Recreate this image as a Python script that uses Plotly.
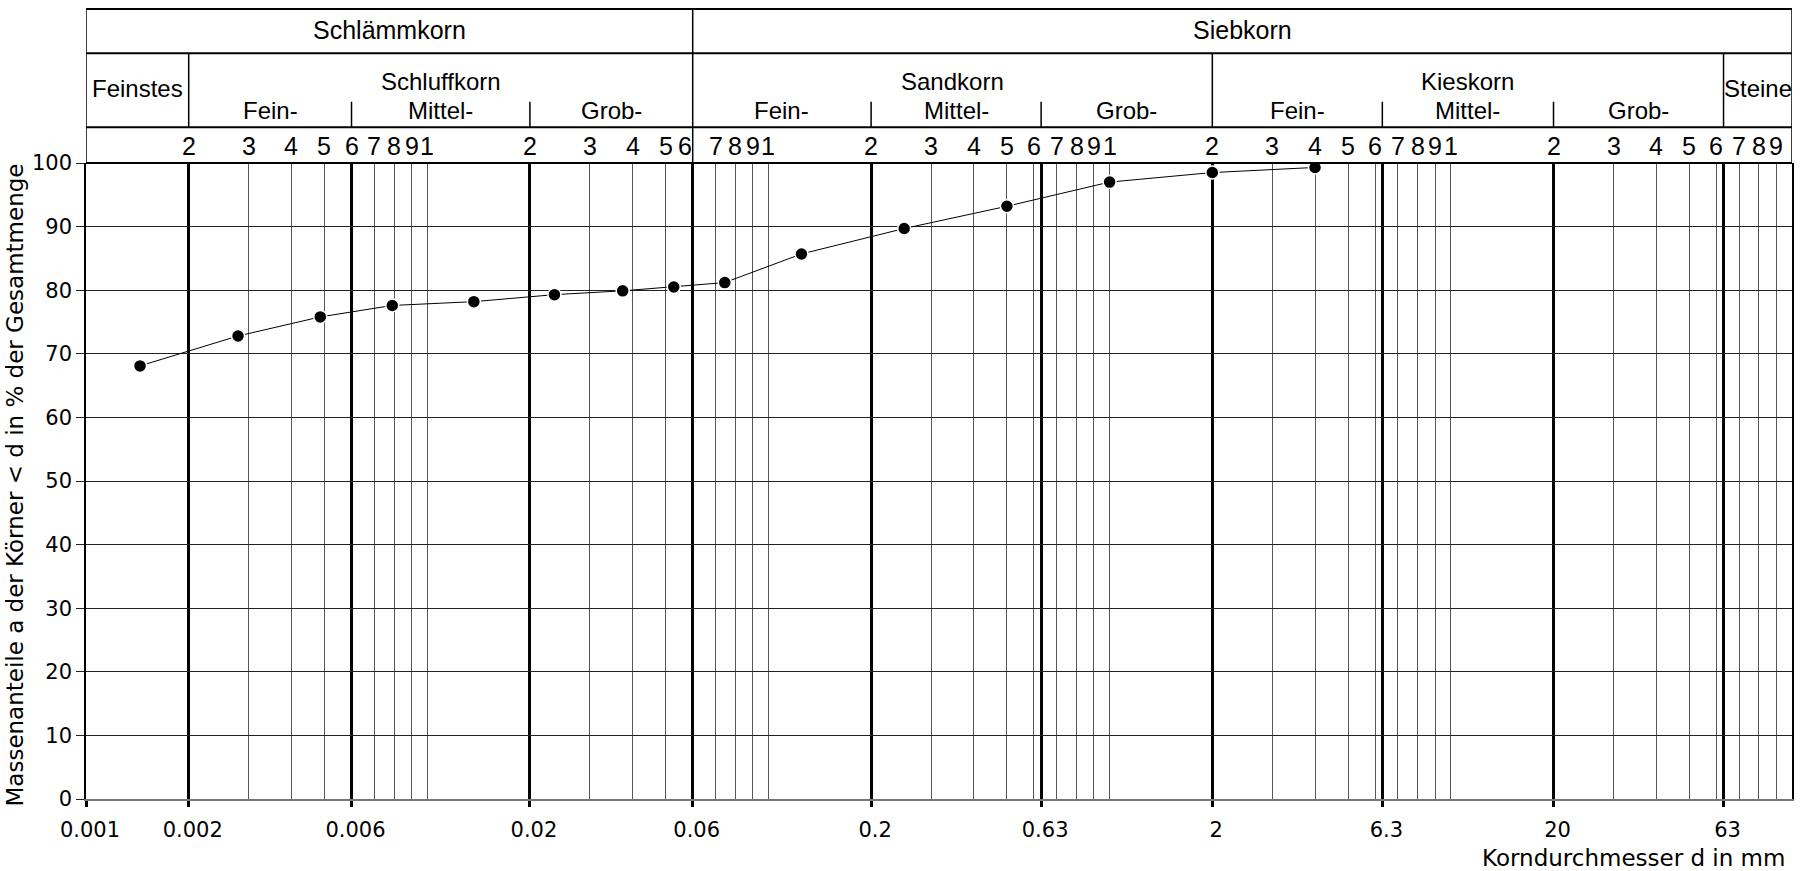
import math
import plotly.graph_objects as go

# ---------------- data ----------------
grain_size_mm = [0.00144, 0.00279, 0.00486, 0.0079, 0.0137, 0.0236, 0.0374, 0.0528,
                 0.0745, 0.125, 0.25, 0.5, 1.0, 2.0, 4.0]
passing_pct = [68.1, 72.8, 75.8, 77.6, 78.2, 79.3, 79.9, 80.5,
               81.2, 85.7, 89.7, 93.2, 97.0, 98.5, 99.3]

x_tick_values = [0.001, 0.002, 0.006, 0.02, 0.06, 0.2, 0.63, 2, 6.3, 20, 63]
x_tick_labels = ["0.001", "0.002", "0.006", "0.02", "0.06", "0.2", "0.63", "2", "6.3", "20", "63"]
decades = [0.001, 0.01, 0.1, 1, 10]
digits = [1, 2, 3, 4, 5, 6, 7, 8, 9]

row1_zones = ["Schlämmkorn", "Siebkorn"]
row1_bounds = [0.001, 0.06, 100]
row2_main = ["Feinstes", "Schluffkorn", "Sandkorn", "Kieskorn", "Steine"]
row2_bounds = [0.001, 0.002, 0.06, 2, 63, 100]
sub_labels = ["Fein-", "Mittel-", "Grob-"]
sub_bounds = [[0.002, 0.006, 0.02, 0.06], [0.06, 0.2, 0.63, 2], [2, 6.3, 20, 63]]

y_title = "Massenanteile a der Körner < d in % der Gesamtmenge"
x_title = "Korndurchmesser d in mm"

# ---------------- derived ----------------
minor_vals = []
minor_digits = []
for dec in decades:
    for d in digits:
        v = round(d * dec, 6)
        if 0.001 < v < 100:
            minor_vals.append(v)
            minor_digits.append(str(d))

AX_FONT = "DejaVu Sans"
HD_FONT = "Liberation Sans, Arial"

# paper-y levels of the header (plot top = 1)
Y_TOP = 1.2421
Y_R1 = 1.1725
Y_R2 = 1.0561
Y_SHORT = 1.0964

fig = go.Figure()
fig.add_trace(go.Scatter(
    x=grain_size_mm, y=passing_pct, mode="lines+markers",
    line=dict(color="black", width=1),
    marker=dict(size=13, color="black", line=dict(color="white", width=1.5)),
    showlegend=False, hoverinfo="x+y"))

shapes = []


def hline(y, w=2):
    shapes.append(dict(type="line", xref="paper", yref="paper", x0=0, x1=1, y0=y, y1=y,
                       line=dict(color="black", width=w)))


def vline(x, y0, y1, w=1.5):
    shapes.append(dict(type="line", xref="x", yref="paper", x0=x, x1=x, y0=y0, y1=y1,
                       line=dict(color="black", width=w)))


for y in (Y_TOP, Y_R1, Y_R2):
    hline(y, 2)
hline(1.0, 2)
for x in (0.001, 100, 0.06):
    vline(x, 1.0, Y_TOP)
for x in (0.002, 2, 63):
    vline(x, Y_R2, Y_R1)
for grp in sub_bounds:
    for x in grp[1:-1]:
        vline(x, Y_R2, Y_SHORT)

ann = []


def lmid(a, b):
    return (math.log10(a) + math.log10(b)) / 2


def text(x, y, s, size=24, font=HD_FONT, xshift=0):
    ann.append(dict(x=x, y=y, xref="x", yref="paper", text=s, showarrow=False,
                    xanchor="center", yanchor="middle", xshift=xshift,
                    font=dict(family=font, size=size, color="black")))


for i, s in enumerate(row1_zones):
    text(lmid(row1_bounds[i], row1_bounds[i + 1]), 1.2091, s, 25)
for i, s in enumerate(row2_main):
    yy = 1.1164 if s in ("Feinstes", "Steine") else 1.1278
    text(lmid(row2_bounds[i], row2_bounds[i + 1]), yy, s, 24)
for grp in sub_bounds:
    for j, s in enumerate(sub_labels):
        text(lmid(grp[j], grp[j + 1]), 1.0833, s, 24)
for v, s in zip(minor_vals, minor_digits):
    sh = -8 if abs(v - 0.06) < 1e-9 else 0
    text(math.log10(v), 1.0262, s, 25, xshift=sh)

ann.append(dict(x=0.997, y=-0.0928, xref="paper", yref="paper", text=x_title,
                showarrow=False, xanchor="right", yanchor="middle",
                font=dict(family=AX_FONT, size=23, color="black")))
ann.append(dict(x=-0.0419, y=0.4937, xref="paper", yref="paper", text=y_title,
                showarrow=False, xanchor="center", yanchor="middle", textangle=-90,
                font=dict(family=AX_FONT, size=23, color="black")))

fig.update_layout(
    width=1800, height=871,
    margin=dict(l=86, r=6, t=163, b=72),
    paper_bgcolor="white", plot_bgcolor="white",
    shapes=shapes, annotations=ann,
    xaxis=dict(type="log", range=[-3, 2], tickmode="array",
               tickvals=x_tick_values, ticktext=x_tick_labels,
               ticks="outside", ticklen=6, tickwidth=2.5, tickcolor="black",
               showgrid=True, gridcolor="black", gridwidth=2.5,
               showline=True, linecolor="#777", linewidth=1.5,
               zeroline=False, ticklabelshift=4, ticklabelstandoff=5,
               tickfont=dict(family=AX_FONT, size=21, color="black"),
               minor=dict(tickmode="array", tickvals=minor_vals, showgrid=True,
                          gridcolor="#555", gridwidth=1, ticks="")),
    yaxis=dict(range=[0, 100], tick0=0, dtick=10,
               ticks="outside", ticklen=8, tickcolor="#222", tickwidth=1,
               showgrid=True, gridcolor="#222", gridwidth=1,
               showline=True, linecolor="black", linewidth=1.5, mirror=True,
               zeroline=False,
               tickfont=dict(family=AX_FONT, size=21, color="black")),
)

fig.write_html("out.html")
